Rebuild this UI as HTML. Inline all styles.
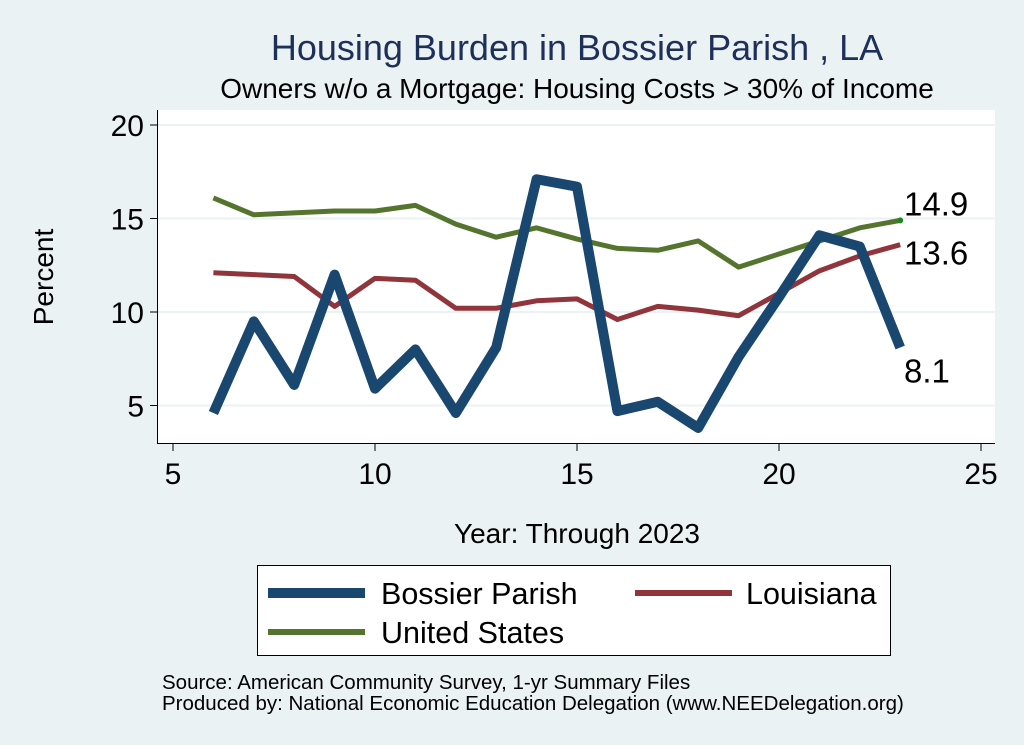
<!DOCTYPE html>
<html><head><meta charset="utf-8"><style>
body{margin:0;background:#eaf2f3;}
svg{display:block;font-family:"Liberation Sans",sans-serif;}
</style></head><body>
<svg width="1024" height="745">
<rect width="1024" height="745" fill="#eaf2f3"/>
<text x="577" y="60" font-size="36" fill="#1e2f5a" text-anchor="middle">Housing Burden in Bossier Parish , LA</text>
<text x="577" y="98" font-size="28" fill="#000" text-anchor="middle">Owners w/o a Mortgage: Housing Costs &gt; 30% of Income</text>
<rect x="157" y="110" width="838" height="334" fill="#fff"/>
<g id="grid"></g>
<g id="axes"></g>
<g id="series"></g>
<text x="53" y="277" font-size="28" text-anchor="middle" transform="rotate(-90 53 277)">Percent</text>
<text x="577" y="543" font-size="28" text-anchor="middle">Year: Through 2023</text>
<g>
<rect x="257.5" y="565.5" width="633" height="90" fill="#fff" stroke="#000" stroke-width="1"/>
<line x1="268" y1="593" x2="365" y2="593" stroke="#1a476f" stroke-width="10"/>
<text x="381" y="604" font-size="30.5">Bossier Parish</text>
<line x1="635" y1="593" x2="732" y2="593" stroke="#90353b" stroke-width="6"/>
<text x="746" y="604" font-size="30.5">Louisiana</text>
<line x1="268" y1="632" x2="365" y2="632" stroke="#55752f" stroke-width="6"/>
<text x="381" y="643" font-size="30.5">United States</text>
</g>
<text x="162" y="689" font-size="20.5">Source: American Community Survey, 1-yr Summary Files</text>
<text x="162" y="710" font-size="20.5">Produced by: National Economic Education Delegation (www.NEEDelegation.org)</text>
</svg>
<script>
const years=[6,7,8,9,10,11,12,13,14,15,16,17,18,19,20,21,22,23];
const bossier=[4.6,9.5,6.1,12.0,5.9,8.0,4.6,8.1,17.1,16.7,4.7,5.2,3.8,7.6,10.8,14.1,13.5,8.1];
const louisiana=[12.1,12.0,11.9,10.3,11.8,11.7,10.2,10.2,10.6,10.7,9.6,10.3,10.1,9.8,11.0,12.2,13.0,13.6];
const us=[16.1,15.2,15.3,15.4,15.4,15.7,14.7,14.0,14.5,13.9,13.4,13.3,13.8,12.4,13.1,13.8,14.5,14.9];
const xTicks=[5,10,15,20,25];
const yTicks=[5,10,15,20];
const NS='http://www.w3.org/2000/svg';
const X=v=>173+(v-5)*40.4;
const Y=v=>312-(v-10)*18.7;
function mk(t,a,p){const e=document.createElementNS(NS,t);for(const k in a)e.setAttribute(k,a[k]);p.appendChild(e);return e;}
const grid=document.getElementById('grid'),axes=document.getElementById('axes'),ser=document.getElementById('series');
yTicks.forEach(v=>{
const g=mk('line',{x1:158,x2:995,y1:Y(v),y2:Y(v),stroke:'#eaf2f3','stroke-width':2},grid);


const t=mk('line',{x1:150,x2:157,y1:Y(v),y2:Y(v),stroke:'#000'},axes);


const l=mk('text',{x:144,y:Y(v)+11,'font-size':30,'text-anchor':'end'},axes);l.textContent=v;


});
xTicks.forEach(v=>{
const t=mk('line',{x1:X(v),x2:X(v),y1:444,y2:451,stroke:'#000'},axes);


const l=mk('text',{x:X(v),y:484,'font-size':30,'text-anchor':'middle'},axes);l.textContent=v;


});
const ya=mk('line',{x1:157.5,x2:157.5,y1:110,y2:444,stroke:'#000'},axes);


const xa=mk('line',{x1:157,x2:995,y1:443.5,y2:443.5,stroke:'#000'},axes);


function line(vals,color,w,name){
const p=mk('polyline',{points:years.map((y,i)=>X(y)+','+Y(vals[i])).join(' '),fill:'none',stroke:color,'stroke-width':w,'stroke-linejoin':'round'},ser);


}
line(us,'#55752f',5,'line-united-states');
line(louisiana,'#90353b',5,'line-louisiana');
line(bossier,'#1a476f',10,'line-bossier-parish');
const d=mk('circle',{cx:X(23),cy:Y(us[17]),r:3,fill:'#1a8a1a'},ser);


function lab(v,y,name){const t=mk('text',{x:904,y:y,'font-size':33},ser);t.textContent=v.toFixed(1);

}
lab(us[17],Y(us[17])-5,'label-us-last');
lab(louisiana[17],Y(louisiana[17])+20,'label-louisiana-last');
lab(bossier[17],Y(bossier[17])+35,'label-bossier-last');
</script>
</body></html>
